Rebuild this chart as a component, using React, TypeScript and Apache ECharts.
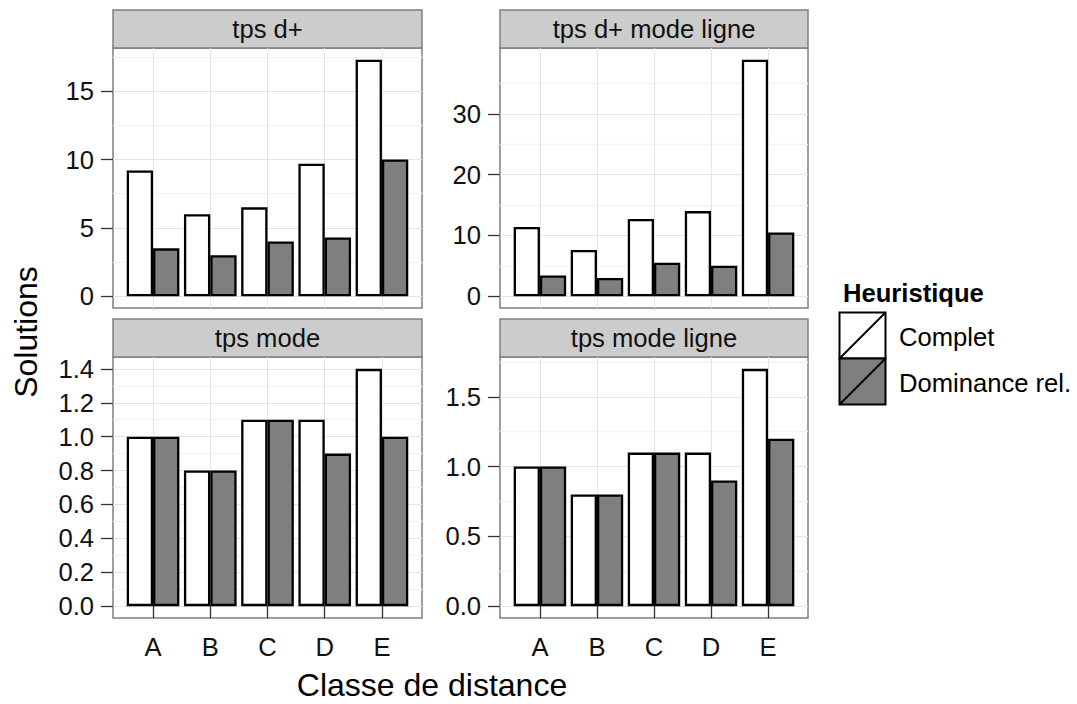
import React, { useEffect, useRef } from "react";
import * as echarts from "echarts";

// ---- data ----
const categories = ["A", "B", "C", "D", "E"];
const panelTitles = ["tps d+", "tps d+ mode ligne", "tps mode", "tps mode ligne"];
const seriesNames = ["Complet", "Dominance rel."];

const tpsDComplet = [9.2, 6.0, 6.5, 9.7, 17.3];
const tpsDDominance = [3.5, 3.0, 4.0, 4.3, 10.0];
const tpsDLigneComplet = [11.4, 7.6, 12.7, 14.0, 38.9];
const tpsDLigneDominance = [3.4, 3.0, 5.5, 5.0, 10.5];
const tpsModeComplet = [1.0, 0.8, 1.1, 1.1, 1.4];
const tpsModeDominance = [1.0, 0.8, 1.1, 0.9, 1.0];
const tpsModeLigneComplet = [1.0, 0.8, 1.1, 1.1, 1.7];
const tpsModeLigneDominance = [1.0, 0.8, 1.1, 0.9, 1.2];

const yTicksTpsD = [0, 5, 10, 15];
const yTicksTpsDLigne = [0, 10, 20, 30];
const yTicksTpsMode = [0, 0.2, 0.4, 0.6, 0.8, 1.0, 1.2, 1.4];
const yTicksTpsModeLigne = [0, 0.5, 1.0, 1.5];

const xAxisTitle = "Classe de distance";
const yAxisTitle = "Solutions";
const legendTitle = "Heuristique";

// ---- layout / style ----
const FONT = "'Liberation Sans', Arial, Helvetica, sans-serif";
const SMALL = 25.6;
const BIG = 32;
const BAR_COLORS = ["#ffffff", "#7f7f7f"];
const BORDER_GREY = "#7f7f7f";

const panels = [
  { comp: tpsDComplet, dom: tpsDDominance, ticks: yTicksTpsD, interval: 5, decimals: 0, grid: { left: 113, top: 48, width: 309, height: 260 }, bottom: false },
  { comp: tpsDLigneComplet, dom: tpsDLigneDominance, ticks: yTicksTpsDLigne, interval: 10, decimals: 0, grid: { left: 500, top: 48, width: 308, height: 260 }, bottom: false },
  { comp: tpsModeComplet, dom: tpsModeDominance, ticks: yTicksTpsMode, interval: 0.2, decimals: 1, grid: { left: 113, top: 357, width: 309, height: 261 }, bottom: true },
  { comp: tpsModeLigneComplet, dom: tpsModeLigneDominance, ticks: yTicksTpsModeLigne, interval: 0.5, decimals: 1, grid: { left: 500, top: 357, width: 308, height: 261 }, bottom: true },
];

const STRIP_H = 38;

function buildOption() {
  const xTickValues = categories.map((_, i) => i + 1);
  const grids: any[] = [];
  const xAxes: any[] = [];
  const yAxes: any[] = [];
  const series: any[] = [];
  const graphics: any[] = [];

  panels.forEach((p, i) => {
    grids.push({
      ...p.grid,
      show: true,
      backgroundColor: "#ffffff",
      borderColor: BORDER_GREY,
      borderWidth: 1.5,
      containLabel: false,
    });
    xAxes.push({
      gridIndex: i,
      type: "value",
      min: 1 - 0.7,
      max: categories.length + 0.7,
      minInterval: 1,
      maxInterval: 1,
      axisLine: { show: false },
      axisTick: {
        show: p.bottom,
        length: 12,
        customValues: xTickValues,
        lineStyle: { color: "#333333", width: 1.3 },
      },
      axisLabel: {
        show: p.bottom,
        customValues: xTickValues,
        margin: 16,
        fontSize: SMALL,
        fontFamily: FONT,
        color: "#111111",
        showMinLabel: true,
        showMaxLabel: true,
        formatter: (v: number) => (Number.isInteger(v) && categories[v - 1]) || "",
      },
      splitLine: { show: true, lineStyle: { color: "#e5e5e5", width: 1 } },
    });
    const maxV = Math.max(...p.comp, ...p.dom);
    const ticks = p.ticks;
    yAxes.push({
      gridIndex: i,
      type: "value",
      min: -0.05 * maxV,
      max: 1.05 * maxV,
      minInterval: p.interval,
      maxInterval: p.interval,
      axisLine: { show: false },
      axisTick: {
        show: true,
        length: 12,
        customValues: ticks,
        lineStyle: { color: "#333333", width: 1.3 },
      },
      axisLabel: {
        customValues: ticks,
        margin: 19,
        fontSize: SMALL,
        fontFamily: FONT,
        color: "#111111",
        formatter: (v: number) => {
          const ok = ticks.some((t) => Math.abs(t - v) < 1e-9);
          return ok ? v.toFixed(p.decimals) : "";
        },
      },
      splitLine: { show: true, lineStyle: { color: "#e5e5e5", width: 1 } },
      minorTick: { show: false, splitNumber: 2 },
      minorSplitLine: { show: true, lineStyle: { color: "#f4f4f4", width: 1.4 } },
    });
    [p.comp, p.dom].forEach((vals, k) => {
      series.push({
        type: "bar",
        name: seriesNames[k],
        xAxisIndex: i,
        yAxisIndex: i,
        barWidth: "46%",
        barGap: "0%",
        itemStyle: { color: BAR_COLORS[k], borderColor: "#000000", borderWidth: 2.3 },
        data: vals.map((v, j) => [j + 1, v]),
      });
    });
    // strip header
    graphics.push({
      type: "group",
      children: [
        {
          type: "rect",
          shape: { x: p.grid.left, y: p.grid.top - STRIP_H, width: p.grid.width, height: STRIP_H },
          style: { fill: "#cccccc", stroke: BORDER_GREY, lineWidth: 1.5 },
        },
        {
          type: "text",
          x: p.grid.left + p.grid.width / 2,
          y: p.grid.top - STRIP_H / 2,
          style: {
            text: panelTitles[i],
            fill: "#111111",
            font: `${SMALL}px ${FONT}`,
            textAlign: "center",
            textVerticalAlign: "middle",
          },
        },
      ],
    });
  });

  // axis titles
  graphics.push({
    type: "text",
    x: 432,
    y: 685,
    style: {
      text: xAxisTitle,
      fill: "#000000",
      font: `${BIG}px ${FONT}`,
      textAlign: "center",
      textVerticalAlign: "middle",
    },
  });
  graphics.push({
    type: "text",
    x: 26,
    y: 332,
    rotation: Math.PI / 2,
    style: { text: yAxisTitle, fill: "#000000", font: `${BIG}px ${FONT}`, textAlign: "center", textVerticalAlign: "middle" },
  });

  // legend
  const lx = 839.5;
  const ly = 312.5;
  const ks = 46;
  graphics.push({
    type: "text",
    x: 843,
    y: 293,
    style: { text: legendTitle, fill: "#000000", font: `bold ${SMALL}px ${FONT}`, textAlign: "left", textVerticalAlign: "middle" },
  });
  seriesNames.forEach((name, k) => {
    const y0 = ly + k * ks;
    graphics.push({
      type: "rect",
      shape: { x: lx, y: y0, width: ks, height: ks },
      style: { fill: BAR_COLORS[k], stroke: "#000000", lineWidth: 2 },
    });
    graphics.push({
      type: "line",
      shape: { x1: lx, y1: y0 + ks, x2: lx + ks, y2: y0 },
      style: { stroke: "#000000", lineWidth: 2 },
    });
    graphics.push({
      type: "text",
      x: 899,
      y: y0 + ks / 2 + 1.5,
      style: { text: name, fill: "#000000", font: `${SMALL}px ${FONT}`, textAlign: "left", textVerticalAlign: "middle" },
    });
  });

  return {
    animation: false,
    backgroundColor: "#ffffff",
    textStyle: { fontFamily: FONT },
    grid: grids,
    xAxis: xAxes,
    yAxis: yAxes,
    series,
    graphic: graphics,
  };
}

export default function App() {
  const ref = useRef<HTMLDivElement>(null);
  useEffect(() => {
    if (!ref.current) return;
    const chart = echarts.init(ref.current, undefined, { renderer: "svg" });
    chart.setOption(buildOption() as any);
    return () => chart.dispose();
  }, []);
  return (
    <div
      ref={ref}
      style={{ position: "fixed", left: 0, top: 0, width: 1077, height: 704, background: "#ffffff" }}
    />
  );
}
